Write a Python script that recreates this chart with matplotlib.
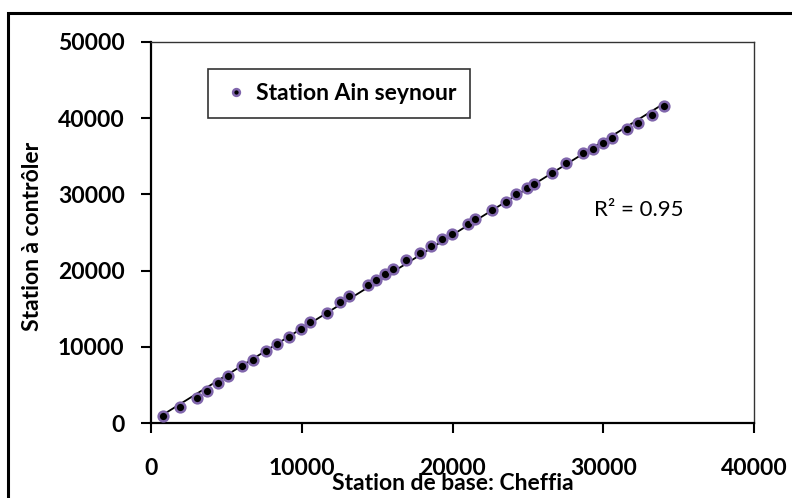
import numpy as np
import matplotlib
matplotlib.use("Agg")
import matplotlib.pyplot as plt
from matplotlib.patches import Rectangle

plt.rcParams['font.family'] = ['Lato', 'DejaVu Sans']

# values
base_cheffia = [796, 1943, 3071, 3695, 4424, 5088, 6016, 6746, 7608, 8338,
                9134, 9970, 10547, 11654, 12536, 13153, 14413, 14924, 15521, 16072,
                16914, 17843, 18540, 19322, 19965, 21047, 21491, 22599, 23527, 24210,
                24920, 25405, 26579, 27527, 28635, 29298, 30001, 30558, 31593, 32283,
                33211, 34027]
ain_seynour = [958, 2139, 3319, 4198, 5209, 6166, 7518, 8266, 9407, 10404,
               11283, 12293, 13212, 14471, 15836, 16662, 18066, 18762, 19549, 20205,
               21386, 22343, 23262, 24141, 24797, 26148, 26725, 27906, 28956, 30006,
               30793, 31397, 32839, 34073, 35385, 35949, 36697, 37432, 38613, 39400,
               40410, 41590]
x_ticks = [0, 10000, 20000, 30000, 40000]
y_ticks = [0, 10000, 20000, 30000, 40000, 50000]

x = np.array(base_cheffia)
y = np.array(ain_seynour)

fig = plt.figure(figsize=(7.92, 4.98), dpi=100)
ax = fig.add_axes([0.1907, 0.1506, 0.7614, 0.7651])

# outer frame of the chart
fig.patches.append(Rectangle((8 / 792, -0.05), 1.2, 0.974 + 0.05,
                             transform=fig.transFigure, fill=False,
                             edgecolor='black', linewidth=2.2))

ax.plot(x, y, linestyle='none', marker='o', markersize=7,
        markerfacecolor='black', markeredgecolor='#8066AC',
        markeredgewidth=1.8, label='Station Ain seynour', zorder=3)

# linear trend line
a, b = np.polyfit(x, y, 1)
xl = np.array([x.min(), x.max()])
ax.plot(xl, a * xl + b, color='black', linewidth=1.3, zorder=2)

ax.text(29400, 27950, 'R² = 0.95', fontsize=16, va='center', ha='left')

ax.set_xlim(0, 40000)
ax.set_ylim(0, 50000)
ax.set_xticks(x_ticks)
ax.set_yticks(y_ticks)
ax.tick_params(direction='out', length=7, width=1.5, labelsize=16.5)
ax.tick_params(axis='x', pad=18)
ax.tick_params(axis='y', pad=12)
for lab in ax.get_xticklabels() + ax.get_yticklabels():
    lab.set_fontweight('bold')

for s in ['left', 'bottom']:
    ax.spines[s].set_linewidth(1.6)
for s in ['top', 'right']:
    ax.spines[s].set_linewidth(1.0)
    ax.spines[s].set_color('#333333')

ax.set_ylabel('Station à contrôler', fontsize=16.5, fontweight='bold')
ax.yaxis.set_label_coords(-0.196, 0.49)
ax.yaxis.label.set_va('center')
ax.set_xlabel('Station de base: Cheffia', fontsize=16.5, fontweight='bold')
ax.xaxis.set_label_coords(0.5, -0.16)
ax.xaxis.label.set_va('center')

leg = ax.legend(loc='upper left', bbox_to_anchor=(0.0945, 0.929),
                frameon=True, fancybox=False, markerscale=0.7,
                handletextpad=0.3, handlelength=1.2, borderpad=0.6,
                borderaxespad=0, prop={'weight': 'bold', 'size': 16.5})
leg.get_frame().set_edgecolor('black')
leg.get_frame().set_linewidth(1.2)

fig.savefig('out.png', dpi=100)
